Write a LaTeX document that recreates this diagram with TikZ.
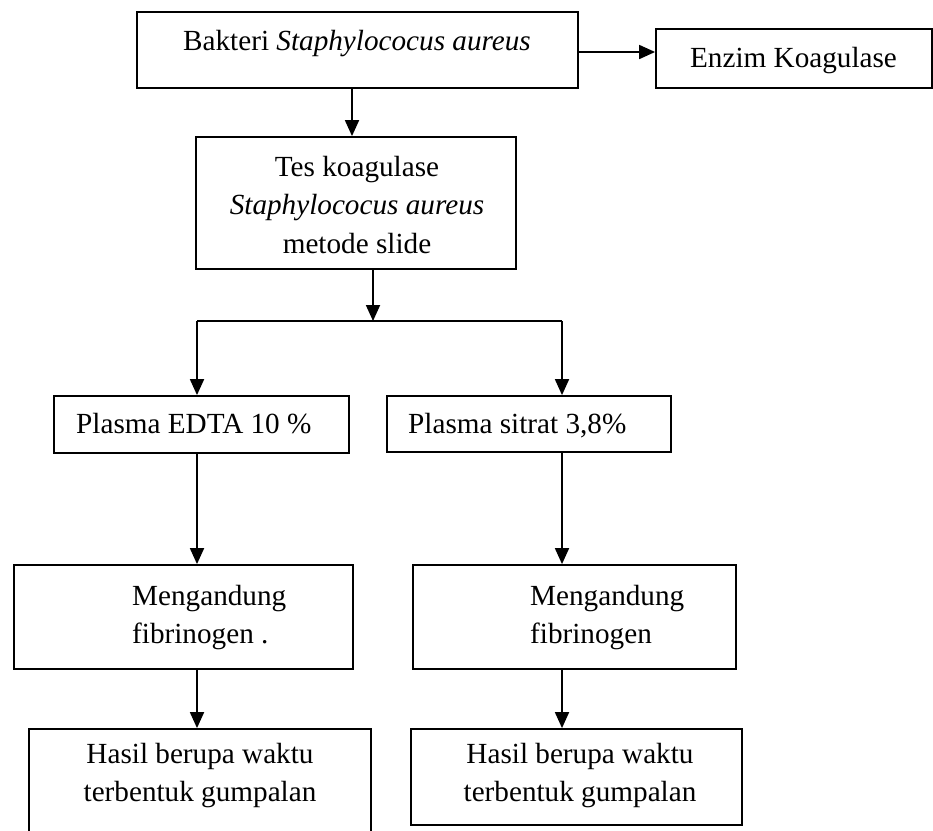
\documentclass[tikz,border=0pt]{standalone}
\usepackage{fontspec}
\setmainfont{Liberation Serif}
\usetikzlibrary{arrows.meta}
\begin{document}
\begin{tikzpicture}[x=1pt,y=-1pt,
  box/.style={draw, line width=1.8pt, rectangle, inner sep=0pt},
  txt/.style={inner sep=0pt, font=\fontsize{29.2}{38.5}\selectfont},
  arr/.style={line width=1.8pt, -{Triangle[length=16pt,width=14pt]}},
  ln/.style={line width=1.8pt}]
\clip (0,0) rectangle (933,830);
% boxes
\node[box, minimum width=441pt, minimum height=76pt] (b1) at (357.5,50) {};
\node[box, minimum width=276pt, minimum height=59pt] (b2) at (794,58.5) {};
\node[box, minimum width=320pt, minimum height=132pt] (b3) at (356,203) {};
\node[box, minimum width=295pt, minimum height=57pt] (b4) at (201.5,424.5) {};
\node[box, minimum width=284pt, minimum height=56pt] (b5) at (529,424) {};
\node[box, minimum width=339pt, minimum height=104pt] (b6) at (183.5,617) {};
\node[box, minimum width=323pt, minimum height=104pt] (b7) at (574.5,617) {};
\node[box, minimum width=342pt, minimum height=111pt] (b8) at (200,784.5) {};
\node[box, minimum width=331pt, minimum height=96pt] (b9) at (576.5,777) {};
% texts
\node[txt, anchor=base] (t1) at (357,50) {Bakteri \textit{Staphylococus aureus}};
\node[txt, anchor=base] (t2) at (793.5,67) {Enzim Koagulase};
\node[txt, anchor=base] (t3a) at (357,176) {Tes koagulase};
\node[txt, anchor=base] (t3b) at (357,214.5) {\textit{Staphylococus aureus}};
\node[txt, anchor=base] (t3c) at (357,253) {metode slide};
\node[txt, anchor=base west] (t4) at (76,433) {Plasma EDTA 10 \%};
\node[txt, anchor=base west] (t5) at (408,433) {Plasma sitrat 3,8\%};
\node[txt, anchor=base west] (t6a) at (132,605) {Mengandung};
\node[txt, anchor=base west] (t6b) at (132,643) {fibrinogen .};
\node[txt, anchor=base west] (t7a) at (530,605) {Mengandung};
\node[txt, anchor=base west] (t7b) at (530,643) {fibrinogen};
\node[txt, anchor=base] (t8a) at (200,763) {Hasil berupa waktu};
\node[txt, anchor=base] (t8b) at (200,801) {terbentuk gumpalan};
\node[txt, anchor=base] (t9a) at (580,763) {Hasil berupa waktu};
\node[txt, anchor=base] (t9b) at (580,801) {terbentuk gumpalan};
% connectors
\coordinate (j) at (373,321);
\coordinate (jl) at (197,321);
\coordinate (jr) at (562,321);
\draw[arr] ([yshift=-2pt]b1.east) -- ([yshift=-2pt]b1.east -| b2.west);
\draw[arr] ([xshift=-5.5pt]b1.south) -- ([xshift=-5.5pt]b1.south |- b3.north);
\draw[arr] (b3.south -| j) -- (j);
\draw[ln] (jl) -- (jr);
\draw[arr] (jl) -- (jl |- b4.north);
\draw[arr] (jr) -- (jr |- b5.north);
\draw[arr] (jl |- b4.south) -- (jl |- b6.north);
\draw[arr] (jr |- b5.south) -- (jr |- b7.north);
\draw[arr] (jl |- b6.south) -- (jl |- b8.north);
\draw[arr] (jr |- b7.south) -- (jr |- b9.north);
\end{tikzpicture}
\end{document}
